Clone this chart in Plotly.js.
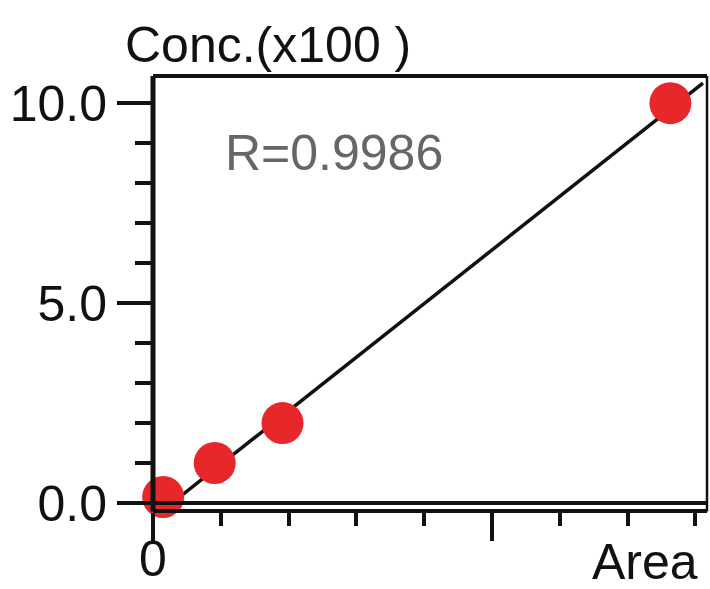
<!DOCTYPE html>
<html>
<head>
<meta charset="utf-8">
<script src="https://cdn.plot.ly/plotly-3.0.1.min.js"></script>
<style>html,body{margin:0;padding:0;background:#fff;}#chart{width:710px;height:589px;}</style>
</head>
<body>
<div id="chart"></div>
<script>
// Data
const areaX = [0.15, 0.91, 1.91, 7.63];
const concY = [0.15, 1.0, 2.0, 10.0];
const fitX = [0.28, 8.11];
const fitY = [0.0, 10.5];
const yTickVals = [0, 5, 10];
const yTickText = ["0.0", "5.0", "10.0"];
const xMajorTicks = [0, 5];
const xZeroLabel = "0";
const rText = "R=0.9986";
const yLabel = "Conc.(x100 )";
const xLabel = "Area";

const FONT = "Liberation Sans, Arial, Helvetica, sans-serif";
const yDomBottom = 7 / 434;

const traces = [
  {x: fitX, y: fitY, mode: "lines", type: "scatter",
   line: {color: "#111", width: 3.5}, hoverinfo: "skip", showlegend: false},
  {x: areaX, y: concY, mode: "markers", type: "scatter", cliponaxis: false,
   marker: {color: "#e8272b", size: 42, line: {width: 0}}, showlegend: false}
];

const layout = {
  width: 710, height: 589,
  margin: {l: 153, r: 3, t: 76, b: 79, pad: 0},
  paper_bgcolor: "#fff", plot_bgcolor: "#fff",
  font: {family: FONT, color: "#111", size: 50},
  showlegend: false,
  xaxis: {
    range: [0, 8.17], anchor: "free", position: 0,
    showgrid: false, zeroline: false, showline: true, linecolor: "#111", linewidth: 3.5,
    ticks: "outside", ticklen: 28, tickwidth: 4, tickcolor: "#111",
    tickmode: "array", tickvals: xMajorTicks, showticklabels: false,
    minor: {dtick: 1, tick0: 0, ticks: "outside", ticklen: 13, tickwidth: 4, tickcolor: "#111", showgrid: false},
    fixedrange: true
  },
  yaxis: {
    range: [0, 10.68], domain: [yDomBottom, 1],
    showgrid: false, zeroline: false, showline: false,
    ticks: "outside", ticklen: 35, tickwidth: 4, tickcolor: "#111",
    tickmode: "array", tickvals: yTickVals, ticktext: yTickText,
    tickfont: {family: FONT, size: 50, color: "#111"},
    minor: {dtick: 1, tick0: 0, ticks: "outside", ticklen: 17, tickwidth: 4, tickcolor: "#111", showgrid: false},
    fixedrange: true
  },
  shapes: [
    {type: "line", xref: "paper", yref: "y domain", x0: 0, x1: 0, y0: -0.02, y1: 1.0, line: {color: "#111", width: 5}, layer: "above"},
    {type: "line", xref: "paper", yref: "y domain", x0: 0, x1: 1, y0: 1, y1: 1, line: {color: "#111", width: 4}, layer: "above"},
    {type: "line", xref: "paper", yref: "y domain", x0: 1, x1: 1, y0: -0.02, y1: 1, line: {color: "#111", width: 2.5}, layer: "above"},
    {type: "line", xref: "paper", yref: "y domain", x0: 0, x1: 1, y0: 0, y1: 0, line: {color: "#111", width: 4}, layer: "above"}
  ],
  annotations: [
    {text: yLabel, xref: "paper", yref: "paper", x: -0.054, y: 1.071, xanchor: "left", yanchor: "middle",
     showarrow: false, font: {family: FONT, size: 50, color: "#111"}},
    {text: rText, xref: "paper", yref: "paper", x: 0.126, y: 0.8226, xanchor: "left", yanchor: "middle",
     showarrow: false, font: {family: FONT, size: 50, color: "#666"}},
    {text: xZeroLabel, xref: "x", yref: "paper", x: 0, y: -0.113, xanchor: "center", yanchor: "middle",
     showarrow: false, font: {family: FONT, size: 50, color: "#111"}},
    {text: xLabel, xref: "paper", yref: "paper", x: 0.987, y: -0.12, xanchor: "right", yanchor: "middle",
     showarrow: false, font: {family: FONT, size: 50, color: "#111"}}
  ]
};

Plotly.newPlot("chart", traces, layout, {displayModeBar: false, staticPlot: true});
</script>
</body>
</html>
